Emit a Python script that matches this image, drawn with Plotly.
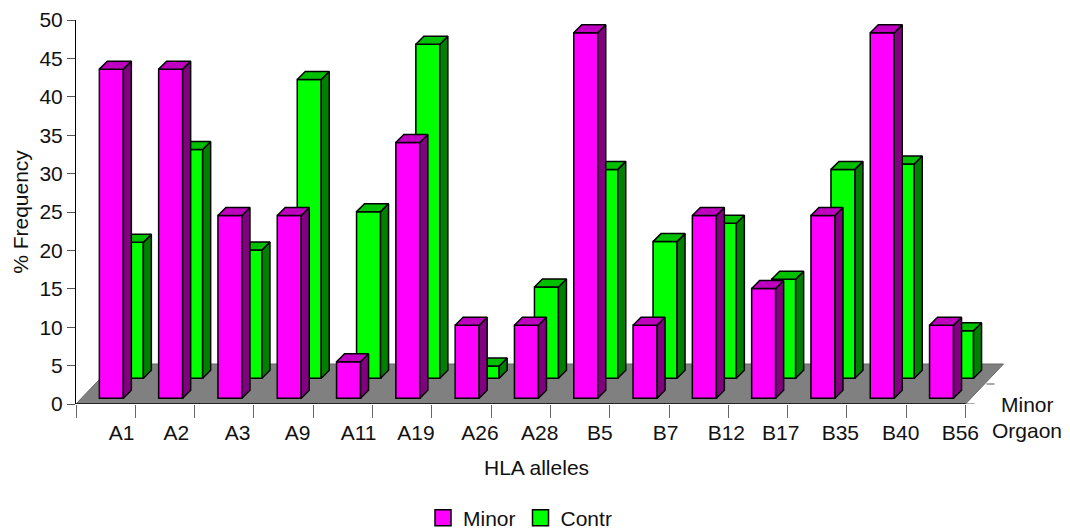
import plotly.graph_objects as go

categories = ["A1", "A2", "A3", "A9", "A11", "A19", "A26", "A28", "B5", "B7", "B12", "B17", "B35", "B40", "B56"]
minor = [42.86, 42.86, 23.8, 23.8, 4.76, 33.3, 9.52, 9.52, 47.6, 9.52, 23.8, 14.3, 23.8, 47.6, 9.52]
contr = [17.7, 29.8, 16.7, 38.9, 21.7, 43.5, 1.6, 11.9, 27.2, 17.8, 20.2, 12.9, 27.2, 27.9, 6.2]
label_nudge_px = [16, 11.4, 13.4, 14.1, 15.8, 13.8, 18.5, 18.9, 19.9, 26.3, 27.7, 22.7, 23.1, 24.1, 24.5]

LEFT, RIGHT_EDGE, TOP, BOTTOM = 76, 1011, 20, 404
PX_X = 59.3
PX_Y = (BOTTOM - TOP) / 50
BAR_W = 24 / PX_X
CAP_X, CAP_Y = 8 / PX_X, 8 / PX_Y
XMAX = -0.5 + (RIGHT_EDGE - LEFT) / PX_X
FONT = "Liberation Sans"
FS = 21


def paper_x(px):
    return (px - LEFT) / (RIGHT_EDGE - LEFT)


def paper_y(px):
    return (BOTTOM - px) / (BOTTOM - TOP)


def faces(values, shift_px):
    sx, sy = shift_px / PX_X, shift_px / PX_Y
    side_x, side_y, top_x, top_y = [], [], [], []
    for i, v in enumerate(values):
        l, r = i + sx - BAR_W / 2, i + sx + BAR_W / 2
        b, t = sy, sy + v
        side_x += [r, r + CAP_X, r + CAP_X, r, r, None]
        side_y += [b, b + CAP_Y, t + CAP_Y, t, b, None]
        top_x += [l, l + CAP_X, r + CAP_X, r, l, None]
        top_y += [t, t + CAP_Y, t + CAP_Y, t, t, None]
    return side_x, side_y, top_x, top_y


def add_series(fig, name, values, shift_px, front, side, top, xa, ya):
    sx, sy = shift_px / PX_X, shift_px / PX_Y
    fig.add_bar(x=[i + sx for i in range(len(values))], y=values, base=[sy] * len(values), width=BAR_W,
                name=name, marker=dict(color=front, line=dict(color="black", width=1.5)),
                xaxis=xa, yaxis=ya, showlegend=False)
    side_x, side_y, top_x, top_y = faces(values, shift_px)
    for xs, ys, col in ((side_x, side_y, side), (top_x, top_y, top)):
        fig.add_scatter(x=xs, y=ys, mode="lines", fill="toself", fillcolor=col,
                        line=dict(color="black", width=1.5), xaxis=xa, yaxis=ya,
                        showlegend=False, hoverinfo="skip", cliponaxis=False)


fig = go.Figure()
d_x, d_y = 38 / PX_X, 40 / PX_Y
floor_path = f"M -0.5 0 L 14.5 0 L {14.5 + d_x} {d_y} L {-0.5 + d_x} {d_y} Z"
fig.add_shape(type="path", path=floor_path, xref="x", yref="y", layer="below",
              fillcolor="#808080", line=dict(color="#666666", width=1))
fig.add_scatter(x=[-0.5, 14.5], y=[0, 0], mode="lines", line=dict(color="#222222", width=2),
                showlegend=False, hoverinfo="skip", cliponaxis=False)
fig.add_scatter(x=[14.5, 14.5 + 9 / PX_X, None, 14.5 + 21 / PX_X, 14.5 + 29 / PX_X],
                y=[0, 0, None, 20 / PX_Y, 20 / PX_Y], mode="lines", line=dict(color="#555555", width=1),
                showlegend=False, hoverinfo="skip", cliponaxis=False)

add_series(fig, "Contr", contr, 25.7, "#00ff00", "#008000", "#00c000", "x", "y")
add_series(fig, "Minor", minor, 5.7, "#ff00ff", "#800080", "#c000c0", "x2", "y2")

for nm, col in (("Minor", "#ff00ff"), ("Contr", "#00ff00")):
    fig.add_scatter(x=[None], y=[None], mode="markers", name=nm,
                    marker=dict(symbol="square", size=16, color=col, line=dict(color="black", width=1.5)))

label_pos = [i + n / PX_X for i, n in enumerate(label_nudge_px)]

fig.update_layout(
    width=1070, height=532, margin=dict(l=LEFT, r=1070 - RIGHT_EDGE, t=TOP, b=532 - BOTTOM, autoexpand=False),
    paper_bgcolor="white", plot_bgcolor="white",
    font=dict(family=FONT, size=FS, color="#111111"),
    xaxis=dict(range=[-0.5, XMAX], tickmode="array", tickvals=[i - 0.5 for i in range(16)],
               ticks="outside", ticklen=13, tickcolor="#666666", showticklabels=False,
               showline=False, showgrid=False, zeroline=False),
    yaxis=dict(range=[0, 50], tickmode="array", tickvals=list(range(0, 51, 5)), ticks="outside", ticklen=8,
               tickcolor="#555555", showline=True, linecolor="black", linewidth=1, showgrid=False,
               zeroline=False, automargin=False, title=dict(text="% Frequency", standoff=5, font=dict(size=FS))),
    xaxis2=dict(range=[-0.5, XMAX], overlaying="x", anchor="y2", side="bottom", tickmode="array",
                tickvals=label_pos, ticktext=categories, ticks="outside", ticklen=10,
                tickcolor="rgba(0,0,0,0)", showline=False, showgrid=False, zeroline=False),
    yaxis2=dict(range=[0, 50], overlaying="y", visible=False),
    legend=dict(orientation="h", x=paper_x(520), xanchor="center", y=1 - 518 / 532, yanchor="middle",
                yref="container", font=dict(size=FS), itemwidth=30),
    annotations=[
        dict(text=t, x=paper_x(cx), y=paper_y(cy), xref="paper", yref="paper", xanchor="center",
             yanchor="middle", showarrow=False)
        for t, cx, cy in (("HLA alleles", 536, 467), ("Minor", 1027, 404), ("Orgaon", 1027, 430))
    ],
)
fig.write_html("out.html", post_script="document.body.style.margin='0';", config=dict(displayModeBar=False))
